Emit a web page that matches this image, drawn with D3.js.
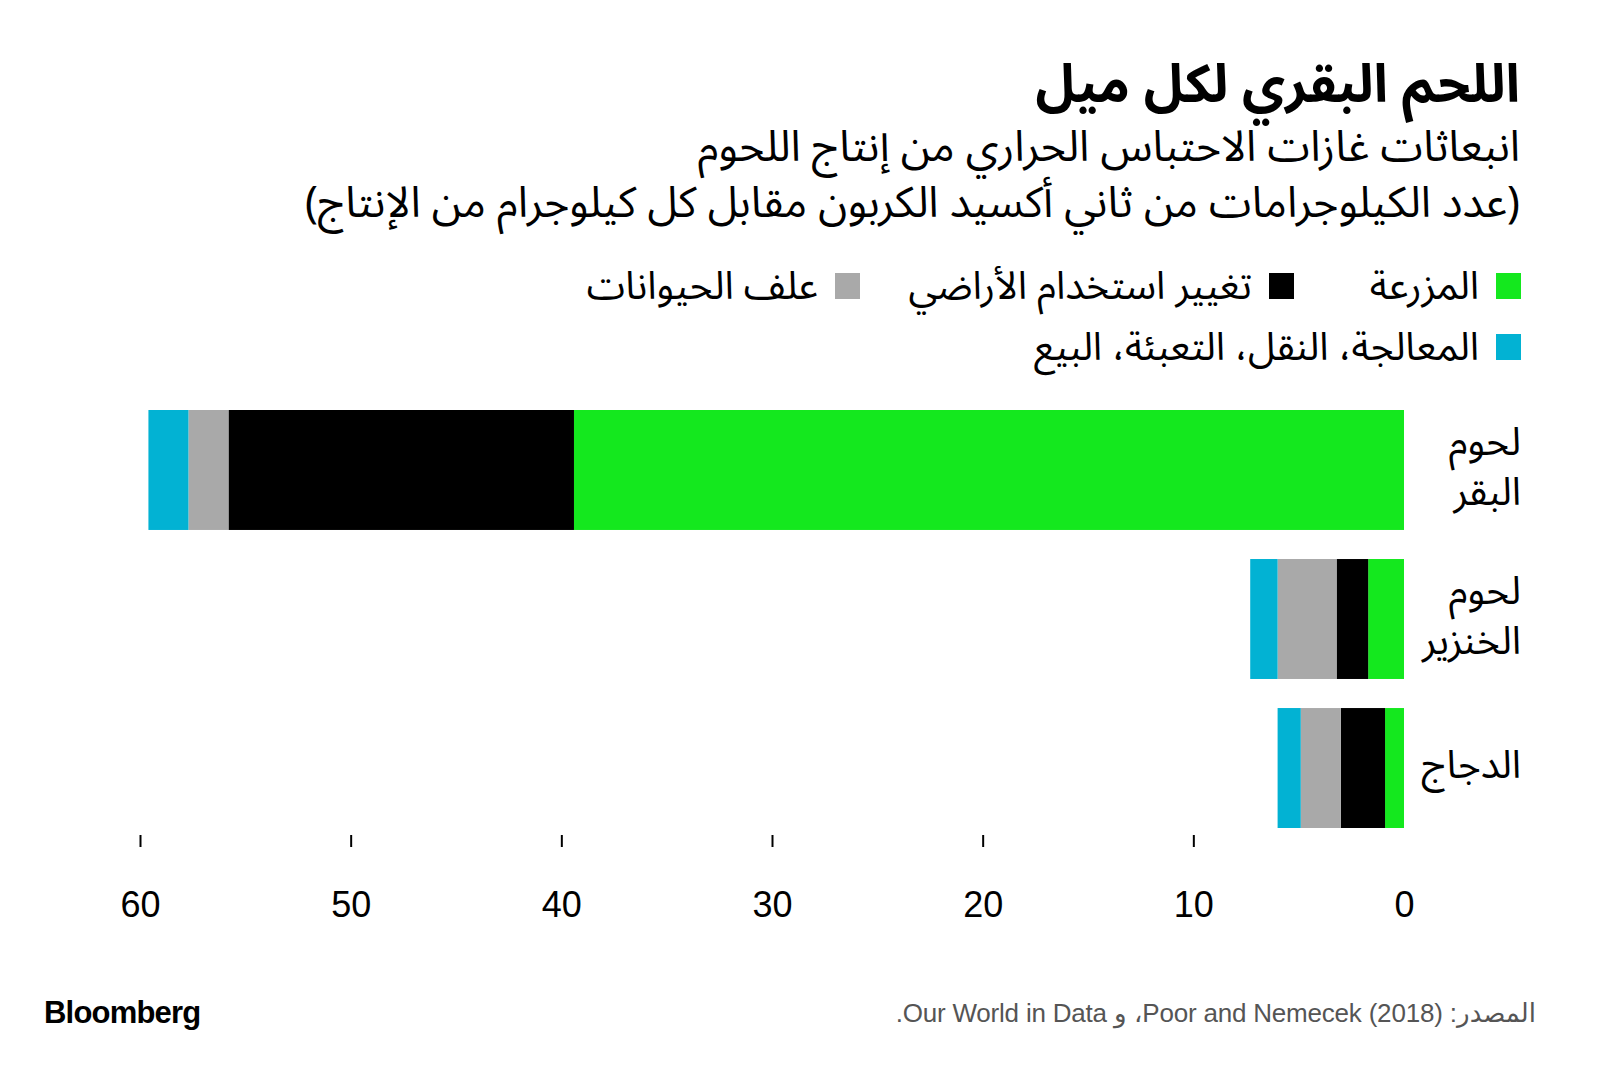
<!DOCTYPE html>
<html>
<head>
<meta charset="utf-8">
<script src="https://cdn.jsdelivr.net/npm/d3@7"></script>
<style>
  body { margin: 0; background: #fff; }
  svg { display: block; }
  .ar { font-family: "Noto Sans Arabic", "DejaVu Sans", sans-serif; direction: rtl; }
  .num { font-family: "Liberation Sans", sans-serif; }
</style>
</head>
<body>
<svg id="chart" width="1600" height="1077"></svg>
<script>
// data
const categories = ["لحوم البقر", "لحوم الخنزير", "الدجاج"];
const categoryLines = [["لحوم", "البقر"], ["لحوم", "الخنزير"], ["الدجاج"]];
const seriesNames = ["المزرعة", "تغيير استخدام الأراضي", "علف الحيوانات", "المعالجة، النقل، التعبئة، البيع"];
const seriesColors = ["#14e81e", "#000000", "#a9a9a9", "#02b2d3"];
const farm = [39.4, 1.7, 0.9];
const landUse = [16.4, 1.5, 2.1];
const feed = [1.9, 2.8, 1.9];
const supplyChain = [1.9, 1.3, 1.1];
const tickValues = [0, 10, 20, 30, 40, 50, 60];

const title = "اللحم البقري لكل ميل";
const subtitle = ["انبعاثات غازات الاحتباس الحراري من إنتاج اللحوم",
  "(عدد الكيلوجرامات من ثاني أكسيد الكربون مقابل كل كيلوجرام من الإنتاج)"];
const source = "المصدر: Poor and Nemecek (2018)، و Our World in Data.";

const svg = d3.select("#chart");

const rows = categories.map((c, i) => ({
    name: c,
    values: [farm[i], landUse[i], feed[i], supplyChain[i]]
}));

// x runs right to left: 0 on the right
const x = d3.scaleLinear().domain([0, 60]).range([1404, 140]);
const y = d3.scaleBand().domain(categories).range([410, 828]).paddingInner(0.195);

// header
svg.append("text").attr("class", "ar")
    .attr("x", 1520).attr("y", 102)
    .style("font-size", "53px").style("font-weight", "bold")
    .text(title);

subtitle.forEach((line, i) => {
    svg.append("text").attr("class", "ar")
        .attr("x", 1520).attr("y", 161 + i * 56)
        .style("font-size", "43px")
        .text(line);
});

// legend
const legendPos = [[1521, 286], [1294, 286], [860, 286], [1521, 347]];
seriesNames.forEach((name, i) => {
    const [lx, ly] = legendPos[i];
    svg.append("rect")
        .attr("x", lx - 25).attr("y", ly - 13)
        .attr("width", 25).attr("height", 26)
        .attr("fill", seriesColors[i]);
    svg.append("text").attr("class", "ar")
        .attr("x", lx - 42).attr("y", ly + 13)
        .style("font-size", "39px")
        .text(name);
});

// bars
rows.forEach(row => {
    let acc = 0;
    row.values.forEach((v, j) => {
        svg.append("rect")
            .attr("x", x(acc + v))
            .attr("y", y(row.name))
            .attr("width", x(acc) - x(acc + v))
            .attr("height", y.bandwidth())
            .attr("fill", seriesColors[j]);
        acc += v;
    });
});

// category labels
categories.forEach((c, i) => {
    const lines = categoryLines[i];
    const mid = y(c) + y.bandwidth() / 2;
    lines.forEach((l, k) => {
        svg.append("text").attr("class", "ar")
            .attr("x", 1521)
            .attr("y", mid + 10 + (k - (lines.length - 1) / 2) * 50)
            .style("font-size", "39px")
            .text(l);
    });
});

// axis
const axis = d3.axisBottom(x).tickValues(tickValues).tickSize(12).tickPadding(44);
const gAxis = svg.append("g").attr("transform", "translate(0,835)").call(axis);
gAxis.select(".domain").remove();
gAxis.selectAll(".tick line")
    .attr("stroke", "#000").attr("stroke-width", 2)
    .attr("display", d => d === 0 ? "none" : null);
gAxis.selectAll(".tick text")
    .attr("class", "num")
    .attr("fill", "#000")
    .style("font-size", "36px");

// footer
svg.append("text")
    .attr("x", 44).attr("y", 1023)
    .style("font-family", "'Liberation Sans', sans-serif")
    .style("font-size", "31px").style("font-weight", "bold")
    .style("letter-spacing", "-0.8px")
    .text("Bloomberg");

svg.append("text").attr("class", "ar")
    .attr("x", 1536).attr("y", 1022)
    .style("font-family", "'Liberation Sans', 'DejaVu Sans', sans-serif")
    .style("font-size", "26px").style("letter-spacing", "-0.2px")
    .attr("fill", "#555")
    .text(source);
</script>
</body>
</html>
